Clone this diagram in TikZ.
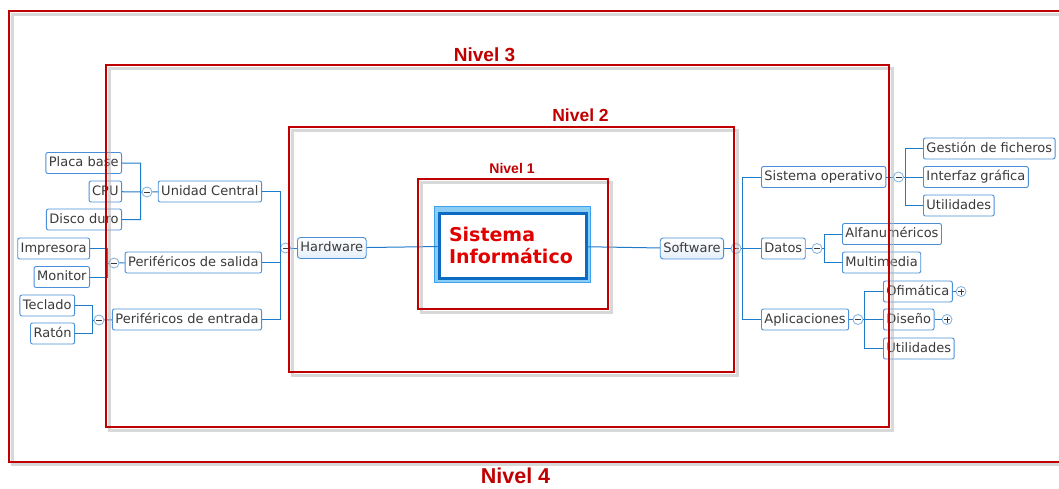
\documentclass[tikz,border=0pt]{standalone}
\usepackage{fontspec}
\setmainfont{DejaVu Sans}
\newfontfamily\nivelfont{Liberation Sans}
\definecolor{framered}{HTML}{C00000}
\definecolor{nodeblue}{HTML}{4A90D9}
\definecolor{lineblue}{HTML}{1F7AC9}
\definecolor{knobblue}{HTML}{8AB6DE}
\definecolor{textgray}{HTML}{3A3A3A}
\definecolor{siblue}{HTML}{0B6BC2}
\definecolor{silight}{HTML}{8CCDF6}
\definecolor{siborder}{HTML}{3AA2EE}
\definecolor{sired}{HTML}{E00000}
\tikzset{
	leaf/.style={draw=nodeblue, fill=white, rounded corners=2pt, line width=0.9pt, text=textgray,
		font=\fontsize{13}{15}\selectfont, minimum height=21pt, inner xsep=3pt, inner ysep=0pt,
		text height=10pt, text depth=3pt},
	mainbranch/.style={leaf, top color=white, bottom color=nodeblue!15, rounded corners=3pt},
	knob/.style={circle, draw=knobblue, fill=white, line width=0.9pt, minimum size=10pt, inner sep=0pt},
	knobminus/.style={knob, path picture={\draw[textgray, line width=0.8pt]
		([xshift=-3pt]path picture bounding box.center) -- ([xshift=3pt]path picture bounding box.center);}},
	knobplus/.style={knob, path picture={\draw[textgray, line width=0.8pt]
		([xshift=-3pt]path picture bounding box.center) -- ([xshift=3pt]path picture bounding box.center)
		([yshift=-3pt]path picture bounding box.center) -- ([yshift=3pt]path picture bounding box.center);}},
	link/.style={draw=lineblue, line width=1pt},
	frame/.style={draw=framered, line width=2pt},
	frameshadow/.style={draw=black!30, line width=3pt, opacity=0.5},
	nivel/.style={text=framered, inner sep=0pt}
}
\begin{document}
\begin{tikzpicture}[x=1pt,y=-1pt]
	\clip (0,0) rectangle (1059,488);
	% central node
	\draw [fill=silight, draw=siborder, line width=1pt] (434.5,206) rectangle (590.5,282);
	\node [draw=siblue, fill=white, line width=3pt, minimum width=147pt, minimum height=65pt,
		text width=127pt, align=left, inner xsep=10pt, text=sired,
		font=\fontsize{19}{22}\selectfont\bfseries] (si) at (512.5,245.5) {Sistema\\Informático};
	% hardware
	\node [leaf, anchor=east] (pb) at (122,163) {Placa base};
	\node [leaf, anchor=east] (cpu) at (122,191.5) {CPU};
	\node [leaf, anchor=east] (dd) at (122,219.5) {Disco duro};
	\node [knobminus] (ucm) at (147,192) {};
	\node [leaf, anchor=east] (uc) at (262,191.5) {Unidad Central};
	\node [leaf, anchor=east] (imp) at (90,248.5) {Impresora};
	\node [leaf, anchor=east] (mon) at (90,277) {Monitor};
	\node [knobminus] (psm) at (114,263) {};
	\node [leaf, anchor=east] (ps) at (262,262.5) {Periféricos de salida};
	\node [leaf, anchor=east] (tec) at (75,305.5) {Teclado};
	\node [leaf, anchor=east] (rat) at (75,333.5) {Ratón};
	\node [knobminus] (pem) at (99,320) {};
	\node [leaf, anchor=east] (pe) at (262,319.5) {Periféricos de entrada};
	\node [knobminus] (hwm) at (285.5,248) {};
	\node [mainbranch, anchor=west] (hw) at (297,248) {Hardware};
	% software
	\node [mainbranch, anchor=east] (sw) at (724,248.5) {Software};
	\node [knobminus] (swm) at (736,248.5) {};
	\node [leaf, anchor=west] (so) at (761,177) {Sistema operativo};
	\node [knobminus] (som) at (898.5,177) {};
	\node [leaf, anchor=west] (gf) at (923,148.5) {Gestión de ficheros};
	\node [leaf, anchor=west] (ig) at (923,177) {Interfaz gráfica};
	\node [leaf, anchor=west] (ut1) at (923,205.5) {Utilidades};
	\node [leaf, anchor=west] (dat) at (761,248.5) {Datos};
	\node [knobminus] (datm) at (817,248.5) {};
	\node [leaf, anchor=west] (alf) at (842,234) {Alfanuméricos};
	\node [leaf, anchor=west] (mul) at (842,262.5) {Multimedia};
	\node [leaf, anchor=west] (apl) at (761,319.5) {Aplicaciones};
	\node [knobminus] (aplm) at (858,319.5) {};
	\node [leaf, anchor=west] (ofi) at (883,291.5) {Ofimática};
	\node [knobplus] (ofip) at (961,291.5) {};
	\node [leaf, anchor=west] (dis) at (883,319.5) {Diseño};
	\node [knobplus] (disp) at (947,319.5) {};
	\node [leaf, anchor=west] (ut2) at (883,348.5) {Utilidades};
	% connectors
	\draw [link] (hw) -- (si);
	\draw [link] (si) -- (sw);
	\draw [link] (hw) -- (hwm);
	\draw [link] (hwm.west) |- (uc) (hwm.west) |- (ps) (hwm.west) |- (pe);
	\draw [link] (uc) -- (ucm);
	\draw [link] (ucm.west) -- ++(-1,0) |- (pb) (ucm.west) -- (cpu) (ucm.west) -- ++(-1,0) |- (dd);
	\draw [link] (ps) -- (psm);
	\draw [link] (psm.west) -- ++(-1,0) |- (imp) (psm.west) -- ++(-1,0) |- (mon);
	\draw [link] (pe) -- (pem);
	\draw [link] (pem.west) -- ++(-1,0) |- (tec) (pem.west) -- ++(-1,0) |- (rat);
	\draw [link] (sw) -- (swm);
	\draw [link] (swm.east) -- ++(1,0) |- (so) (swm.east) -- (dat) (swm.east) -- ++(1,0) |- (apl);
	\draw [link] (so) -- (som);
	\draw [link] (som.east) -- ++(1.5,0) |- (gf) (som.east) -- (ig) (som.east) -- ++(1.5,0) |- (ut1);
	\draw [link] (dat) -- (datm);
	\draw [link] (datm.east) -- ++(2,0) |- (alf) (datm.east) -- ++(2,0) |- (mul);
	\draw [link] (apl) -- (aplm);
	\draw [link] (aplm.east) -- ++(1,0) |- (ofi) (aplm.east) -- (dis) (aplm.east) -- ++(1,0) |- (ut2);
	\draw [link] (ofi) -- (ofip);
	\draw [link] (dis) -- (disp);
	% levels
	\draw [frameshadow] (12,14) rectangle (1078,464.5);
	\draw [frame] (9,11) rectangle (1075,461.5);
	\draw [frameshadow] (109,68) rectangle (892,430);
	\draw [frame] (106,65) rectangle (889,427);
	\draw [frameshadow] (292,130) rectangle (737,375);
	\draw [frame] (289,127) rectangle (734,372);
	\draw [frameshadow] (421,182) rectangle (611,312);
	\draw [frame] (418,179) rectangle (608,309);
	\node [nivel, font=\nivelfont\bfseries\fontsize{14}{16}\selectfont] (n1) at (512,168.5) {Nivel 1};
	\node [nivel, font=\nivelfont\bfseries\fontsize{17.5}{19}\selectfont] (n2) at (580.5,115) {Nivel 2};
	\node [nivel, font=\nivelfont\bfseries\fontsize{19}{21}\selectfont] (n3) at (484.5,55) {Nivel 3};
	\node [nivel, font=\nivelfont\bfseries\fontsize{21.5}{23}\selectfont] (n4) at (515.5,476) {Nivel 4};
\end{tikzpicture}
\end{document}
